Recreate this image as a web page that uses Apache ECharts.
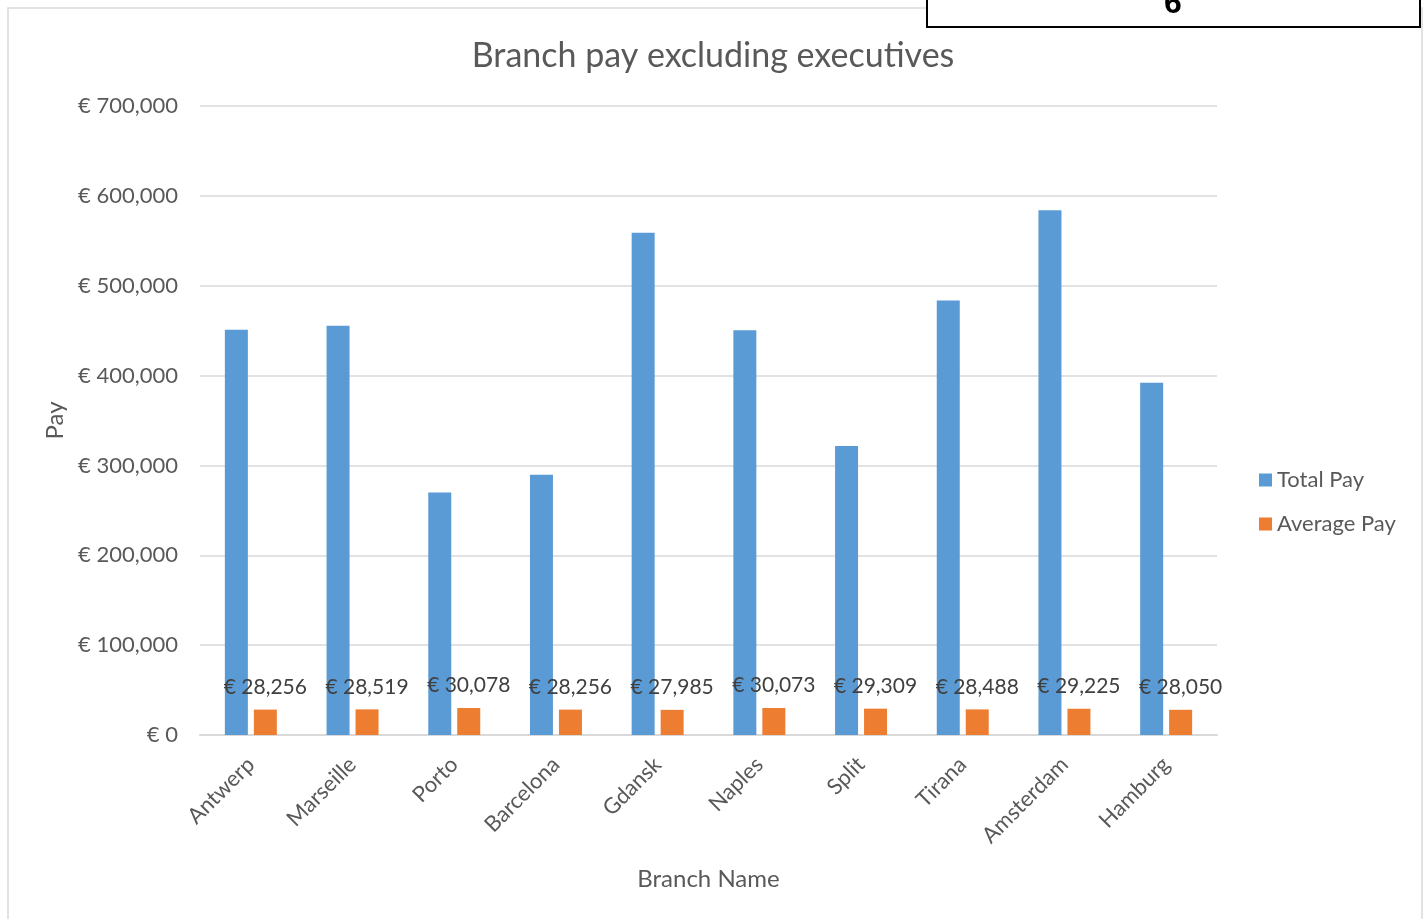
<!DOCTYPE html>
<html><head><meta charset="utf-8">
<script src="https://cdn.jsdelivr.net/npm/echarts@6/dist/echarts.min.js"></script>
<style>html,body{margin:0;padding:0;background:#fff;}#c{width:1426px;height:919px;}</style>
</head><body><div id="c"></div>
<script>
const categories = ['Antwerp','Marseille','Porto','Barcelona','Gdansk','Naples','Split','Tirana','Amsterdam','Hamburg'];
const totalPay = [451000, 455500, 270000, 289500, 559000, 450500, 321500, 483500, 584000, 392000];
const averagePay = [28256, 28519, 30078, 28256, 27985, 30073, 29309, 28488, 29225, 28050];
const yTicks = { min: 0, max: 700000, interval: 100000 };

const fmt = v => '€ ' + Number(v).toLocaleString('en-US');
const FONT = 'Lato';
const chart = echarts.init(document.getElementById('c'));
chart.setOption({
  animation: false,
  textStyle: { fontFamily: FONT },
  title: {
    text: 'Branch pay excluding executives', left: 'center', top: 34,
    textStyle: { fontFamily: FONT, fontSize: 34, fontWeight: 'normal', color: '#595959' }
  },
  legend: {
    orient: 'vertical', left: 1254, top: 464, itemWidth: 13, itemHeight: 13, itemGap: 22,
    icon: 'rect',
    textStyle: { fontFamily: FONT, fontSize: 22, color: '#595959' },
    data: ['Total Pay', 'Average Pay']
  },
  grid: { left: 200, right: 209, top: 106, bottom: 184, containLabel: false },
  xAxis: {
    type: 'category', data: categories,
    name: 'Branch Name', nameLocation: 'middle', nameGap: 132,
    nameTextStyle: { fontFamily: FONT, fontSize: 24, color: '#595959' },
    axisLine: { lineStyle: { color: '#d9d9d9', width: 2 } },
    axisTick: { show: false },
    axisLabel: { rotate: 45, fontSize: 22, color: '#595959', fontFamily: FONT, margin: 26, interval: 0 }
  },
  yAxis: {
    type: 'value', min: yTicks.min, max: yTicks.max, interval: yTicks.interval,
    name: 'Pay', nameLocation: 'middle', nameGap: 128, nameRotate: 90,
    nameTextStyle: { fontFamily: FONT, fontSize: 24, color: '#595959' },
    axisLine: { show: false }, axisTick: { show: false },
    splitLine: { lineStyle: { color: '#d9d9d9', width: 1.5 } },
    axisLabel: { formatter: fmt, fontSize: 22, color: '#595959', fontFamily: FONT, margin: 22 }
  },
  series: [
    { name: 'Total Pay', type: 'bar', data: totalPay, barWidth: 23, barGap: '26%',
      itemStyle: { color: '#5B9BD5' } },
    { name: 'Average Pay', type: 'bar', data: averagePay, barWidth: 23,
      itemStyle: { color: '#ED7D31' },
      label: { show: true, position: 'top', distance: 12, formatter: p => fmt(p.value),
        fontSize: 21, color: '#404040', fontFamily: FONT } }
  ],
  graphic: [
    { type: 'rect', shape: { x: 8, y: 8, width: 1414, height: 930 }, z: -1,
      style: { fill: 'none', stroke: '#d9d9d9', lineWidth: 1.5 } },
    { type: 'rect', shape: { x: 927, y: -10, width: 493, height: 37 }, z: 10,
      style: { fill: '#fff', stroke: '#000', lineWidth: 2 } },
    { type: 'text', x: 1173, y: 20, z: 11,
      style: { text: '6', fontSize: 32, fontWeight: 'bold', fontFamily: 'Liberation Sans', fill: '#000', align: 'center', verticalAlign: 'bottom' } }
  ]
});
</script></body></html>
